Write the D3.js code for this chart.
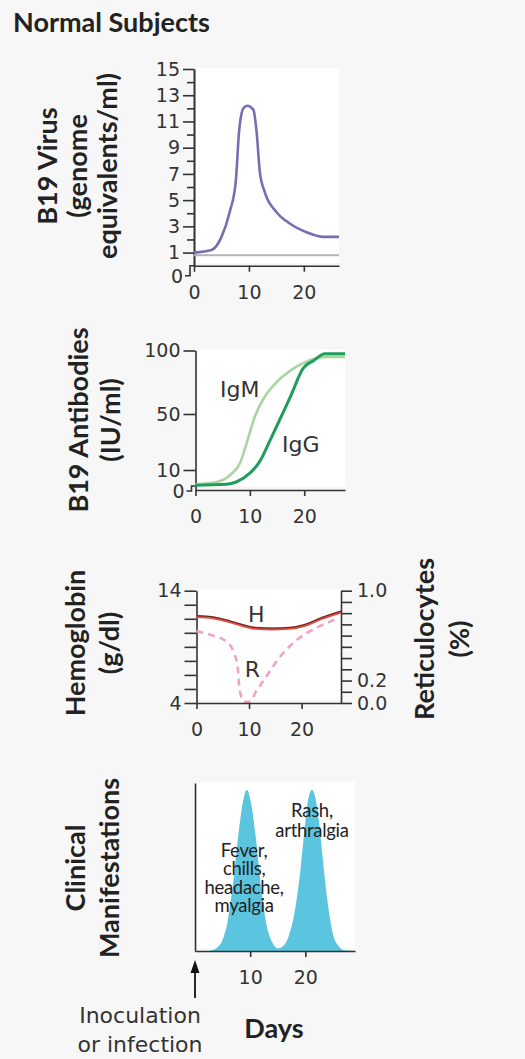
<!DOCTYPE html>
<html>
<head>
<meta charset="utf-8">
<script src="https://cdn.jsdelivr.net/npm/d3@7"></script>
<style>
body { margin: 0; background: #f7f7f7; }
svg { display: block; }
.tick text { font-family: "DejaVu Sans"; font-size: 19px; fill: #333; }
.axis path, .axis line { stroke: #333; stroke-width: 1.6; }
.title { font-family: Lato; font-weight: 700; font-size: 27px; fill: #222; }
.lbl { font-family: "DejaVu Sans"; font-size: 22px; fill: #333; }
.note { font-family: Lato; font-size: 18.5px; fill: #222; letter-spacing: -0.3px; }
</style>
</head>
<body>
<svg id="chart" width="525" height="1059"></svg>
<script>
// B19 virus (genome equivalents/ml)
const virusDays = [0, 3.2, 5, 6.5, 7.6, 8.2, 9, 9.7, 10.8, 11.4, 12, 12.9, 15, 17.5, 20.5, 23.5, 26.4];
const virusVals = [1.0, 1.2, 2.2, 4.1, 6.4, 10.2, 12.0, 12.2, 11.9, 10.2, 7.1, 5.6, 4.1, 3.2, 2.55, 2.2, 2.2];
const virusBase = 0.8;
const virusTicks = [1, 3, 5, 7, 9, 11, 13, 15];
const virusMinor = [2, 4, 6, 8, 10, 12, 14];

// antibodies (IU/ml)
const igmDays = [0, 3.9, 6.6, 8.2, 9.4, 10.9, 12.5, 14.9, 17.4, 19.8, 22.3, 24, 27.5];
const igmVals = [2.9, 4, 8, 15, 29, 48, 62, 75, 84, 90, 94, 95, 95];
const iggDays = [0, 5.7, 7.5, 10, 11.8, 13.7, 15.5, 17.4, 19.8, 21.7, 23.8, 27.5];
const iggVals = [2.4, 2.9, 4, 8.4, 16, 31, 46, 63, 86, 92, 97.5, 97.5];
const abTicks = [10, 50, 100];

// hemoglobin (g/dl) and reticulocytes (%)
const hbDays = [0, 3.1, 6.3, 8.8, 11.3, 14.5, 17.6, 20.8, 23.9, 27.5];
const hbVals = [11.7, 11.6, 11.25, 10.9, 10.65, 10.6, 10.65, 10.95, 11.55, 12.1];
const retDays = [0, 3.1, 5.6, 7.2, 7.9, 8.2, 9.1, 10.1, 11.3, 13.2, 15.7, 18.8, 22, 25.2, 26.7];
const retVals = [0.64, 0.6, 0.55, 0.44, 0.29, 0.12, 0.01, 0.01, 0.1, 0.23, 0.4, 0.55, 0.65, 0.72, 0.75];
const hbLabels = [4, 14];
const retLabels = [0, 0.2, 1];

// clinical manifestations (relative)
const clinDays = [0, 2, 3, 4, 5, 6, 7, 8, 8.7, 9.4, 10.1, 11, 12, 13, 14, 15, 16, 17, 18, 19, 20, 20.5, 21.2, 21.9, 22.5, 23, 24, 25, 26, 27, 29];
const clinVals = [0, 0, 0.005, 0.02, 0.065, 0.19, 0.43, 0.73, 0.89, 0.96, 0.89, 0.68, 0.37, 0.15, 0.05, 0.015, 0.03, 0.09, 0.22, 0.45, 0.77, 0.9, 0.96, 0.9, 0.76, 0.6, 0.3, 0.1, 0.03, 0.005, 0];

const dayTicks = [0, 10, 20];

const svg = d3.select("#chart");

svg.append("rect").attr("width", 525).attr("height", 1059).attr("fill", "#f7f7f7");

svg.append("text").attr("class", "title")
	.attr("x", 13).attr("y", 32)
	.text("Normal Subjects");

function plotBg(x, y, x0, x1, y0, y1) {
	svg.append("rect")
		.attr("x", x(x0) + 2).attr("y", y(y1) - 1)
		.attr("width", x(x1) - x(x0) - 2)
		.attr("height", y(y0) - y(y1) - 2)
		.attr("fill", "#fff");
}

function vTitle(lines, x0, yc, gap) {
	lines.forEach(function(t, i) {
		svg.append("text").attr("class", "title")
			.attr("text-anchor", "middle")
			.attr("transform", "translate(" + (x0 + i * gap) + "," + yc + ") rotate(-90)")
			.text(t);
	});
}

function xAxis(x, yPos, ticks) {
	svg.append("g").attr("class", "axis")
		.attr("transform", "translate(0," + yPos + ")")
		.call(d3.axisBottom(x).tickValues(ticks).tickSize(6).tickPadding(14).tickSizeOuter(0));
}

// axis break with a displaced zero tick
function zeroBreak(xPos, yJog, yZero) {
	svg.append("path")
		.attr("d", "M" + xPos + "," + yJog + "H" + (xPos - 4) + "V" + yZero + "H" + (xPos - 9))
		.attr("fill", "none").attr("stroke", "#333").attr("stroke-width", 1.6);
	svg.append("text")
		.attr("x", xPos - 11).attr("y", yZero).attr("dy", "0.36em")
		.attr("text-anchor", "end")
		.style("font-family", "DejaVu Sans").style("font-size", "19px").style("fill", "#333")
		.text("0");
}

// ---------- panel 1: virus ----------
const x1 = d3.scaleLinear().domain([0, 26.4]).range([194, 339]);
const y1 = d3.scaleLinear().domain([0, 15]).range([265.7, 69]);
plotBg(x1, y1, 0, 26.4, 0, 15);

svg.append("g").attr("class", "axis")
	.attr("transform", "translate(" + x1(0) + ",0)")
	.call(d3.axisLeft(y1).tickValues(virusMinor).tickSize(7).tickFormat("").tickSizeOuter(0));
svg.append("g").attr("class", "axis")
	.attr("transform", "translate(" + x1(0) + ",0)")
	.call(d3.axisLeft(y1).tickValues(virusTicks).tickSize(11).tickPadding(3).tickSizeOuter(0));
zeroBreak(x1(0), y1(0), y1(0) + 10);

svg.append("line")
	.attr("x1", x1(0)).attr("x2", x1(26.4))
	.attr("y1", y1(virusBase)).attr("y2", y1(virusBase))
	.attr("stroke", "#b3b3b3").attr("stroke-width", 2);

svg.append("path")
	.datum(d3.zip(virusDays, virusVals))
	.attr("fill", "none").attr("stroke", "#7a6cb3").attr("stroke-width", 2.6)
	.attr("d", d3.line().x(d => x1(d[0])).y(d => y1(d[1])).curve(d3.curveMonotoneX));

xAxis(x1, y1(0), dayTicks);
vTitle(["B19 Virus", "(genome", "equivalents/ml)"], 57, 166, 30);

// ---------- panel 2: antibodies ----------
const x2 = d3.scaleLinear().domain([0, 27.5]).range([195.5, 345]);
const y2 = d3.scaleLinear().domain([0, 10, 50, 100]).range([490, 470, 414, 350.5]);
plotBg(x2, y2, 0, 27.5, 0, 100);

svg.append("g").attr("class", "axis")
	.attr("transform", "translate(" + x2(0) + ",0)")
	.call(d3.axisLeft(y2).tickValues(abTicks).tickSize(12).tickPadding(3).tickSizeOuter(0));
zeroBreak(x2(0), y2(0) - 4, y2(0) + 1);

const abLine = d3.line().x(d => x2(d[0])).y(d => y2(d[1])).curve(d3.curveMonotoneX);
svg.append("path")
	.datum(d3.zip(igmDays, igmVals))
	.attr("fill", "none").attr("stroke", "#a8d6a0").attr("stroke-width", 2.6)
	.attr("d", abLine);
svg.append("path")
	.datum(d3.zip(iggDays, iggVals))
	.attr("fill", "none").attr("stroke", "#1f9d5c").attr("stroke-width", 3)
	.attr("d", abLine);

svg.append("text").attr("class", "lbl").attr("x", x2(4.5)).attr("y", y2(63)).text("IgM");
svg.append("text").attr("class", "lbl").attr("x", x2(15.9)).attr("y", y2(23)).text("IgG");

xAxis(x2, y2(0), dayTicks);
vTitle(["B19 Antibodies", "(IU/ml)"], 88, 420, 32);

// ---------- panel 3: hemoglobin / reticulocytes ----------
const x3 = d3.scaleLinear().domain([0, 27.5]).range([196.5, 341]);
const yH = d3.scaleLinear().domain([4, 14]).range([703, 590.7]);
const yR = d3.scaleLinear().domain([0, 1]).range([703, 590.7]);
plotBg(x3, yH, 0, 27.5, 4, 14);

svg.append("g").attr("class", "axis")
	.attr("transform", "translate(" + x3(0) + ",0)")
	.call(d3.axisLeft(yH).tickValues(d3.range(4, 14.01, 1.25)).tickSize(12).tickPadding(3).tickSizeOuter(0)
		.tickFormat(d => hbLabels.includes(d) ? d : ""));
svg.append("g").attr("class", "axis")
	.attr("transform", "translate(" + x3(27.5) + ",0)")
	.call(d3.axisRight(yR).tickValues(d3.range(0, 1.001, 0.1)).tickSize(11).tickPadding(5).tickSizeOuter(0)
		.tickFormat(d => retLabels.some(v => Math.abs(v - d) < 1e-6) ? d3.format(".1f")(d) : ""));

svg.append("path")
	.datum(d3.zip(retDays, retVals))
	.attr("fill", "none").attr("stroke", "#f0a3c9").attr("stroke-width", 2.6)
	.attr("stroke-dasharray", "7,5")
	.attr("d", d3.line().x(d => x3(d[0])).y(d => yR(d[1])).curve(d3.curveMonotoneX));

const hbLine = d3.line().x(d => x3(d[0])).y(d => yH(d[1])).curve(d3.curveMonotoneX);
svg.append("path")
	.datum(d3.zip(hbDays, hbVals))
	.attr("fill", "none").attr("stroke", "#e8493b").attr("stroke-width", 3)
	.attr("d", hbLine);
svg.append("path")
	.datum(d3.zip(hbDays, hbVals))
	.attr("fill", "none").attr("stroke", "#3a2a2a").attr("stroke-width", 0.9)
	.attr("transform", "translate(0,-0.8)")
	.attr("d", hbLine);

svg.append("text").attr("class", "lbl").attr("x", x3(9.8)).attr("y", yH(11.2)).text("H");
svg.append("text").attr("class", "lbl").attr("x", x3(9.2)).attr("y", yR(0.23)).text("R");

xAxis(x3, yH(4), dayTicks);
vTitle(["Hemoglobin", "(g/dl)"], 85, 643, 34);
vTitle(["Reticulocytes", "(%)"], 434, 639, 35);

// ---------- panel 4: clinical manifestations ----------
const x4 = d3.scaleLinear().domain([0, 29]).range([195, 355]);
const y4 = d3.scaleLinear().domain([0, 1]).range([951, 783]);
plotBg(x4, y4, 0, 29, 0, 1);

svg.append("path")
	.datum(d3.zip(clinDays, clinVals))
	.attr("fill", "#5bc4de")
	.attr("d", d3.area().x(d => x4(d[0])).y0(y4(0)).y1(d => y4(d[1])).curve(d3.curveMonotoneX));

svg.append("g").attr("class", "axis")
	.attr("transform", "translate(" + x4(0) + ",0)")
	.call(d3.axisLeft(y4).tickValues([]).tickSizeOuter(0));
xAxis(x4, y4(0), [10, 20]);

const notes = [
	{day: 21.2, top: 0.8, lines: ["Rash,", "arthralgia"], gap: 20},
	{day: 8.9, top: 0.56, lines: ["Fever,", "chills,", "headache,", "myalgia"], gap: 18.5}
];
notes.forEach(function(n) {
	n.lines.forEach(function(t, i) {
		svg.append("text").attr("class", "note")
			.attr("text-anchor", "middle")
			.attr("x", x4(n.day)).attr("y", y4(n.top) + i * n.gap)
			.text(t);
	});
});

// inoculation arrow
const ax = x4(0), ay = y4(0);
svg.append("line")
	.attr("x1", ax).attr("x2", ax).attr("y1", ay + 47).attr("y2", ay + 18)
	.attr("stroke", "#111").attr("stroke-width", 1.8);
svg.append("path")
	.attr("d", "M" + ax + "," + (ay + 9) + "L" + (ax - 4.5) + "," + (ay + 22) + "L" + (ax + 4.5) + "," + (ay + 22) + "Z")
	.attr("fill", "#111");

svg.append("text").attr("class", "lbl").attr("text-anchor", "middle")
	.attr("x", 140).attr("y", 1023).text("Inoculation");
svg.append("text").attr("class", "lbl").attr("text-anchor", "middle")
	.attr("x", 140).attr("y", 1052).text("or infection");
svg.append("text").attr("class", "title").attr("text-anchor", "middle")
	.attr("x", x4(14.3)).attr("y", 1038).text("Days");

vTitle(["Clinical", "Manifestations"], 85, 868, 34);
</script>
</body>
</html>
